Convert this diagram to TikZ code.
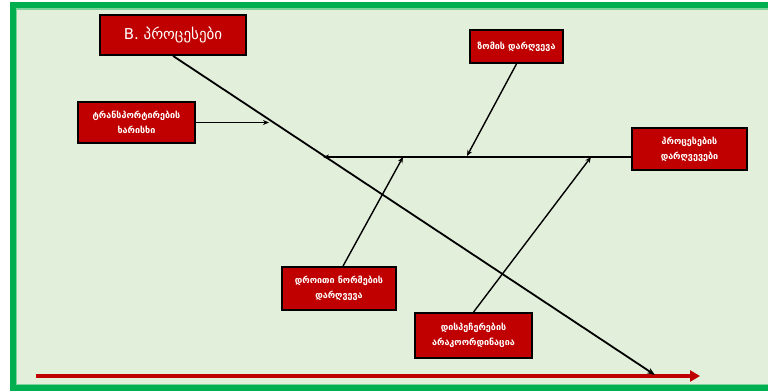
\documentclass[tikz,border=0pt]{standalone}
\usepackage{fontspec}
\setmainfont{DejaVu Sans}
\usetikzlibrary{arrows.meta,calc}
\definecolor{framegreen}{HTML}{00B050}
\definecolor{framelight}{HTML}{7DD49B}
\definecolor{paper}{HTML}{E2EFDA}
\definecolor{boxred}{HTML}{C00000}
\definecolor{axisred}{HTML}{C00000}
\begin{document}
\begin{tikzpicture}[x=1pt,y=-1pt,
  causebox/.style={draw=black,line width=1.8pt,fill=boxred,text=white,
    align=center,inner sep=0pt,font=\fontsize{9}{15}\selectfont\bfseries},
  bone/.style={draw=black,line width=1.4pt,-{Stealth[length=6pt,width=5pt]}},
  spine/.style={draw=black,line width=1.8pt,-{Stealth[length=8pt,width=6pt]}}]
\useasboundingbox (0,0) rectangle (768,391);
% frame
\fill[framegreen] (10,2) rectangle (768,391);
\fill[framelight] (16,8) rectangle (768,385);
\fill[paper] (17,10) rectangle (768,384);
% cause boxes
\node[causebox,minimum width=146,minimum height=40,font=\fontsize{15}{18}\selectfont] (b1) at (173,35) {B. პროცესები};
\node[causebox,minimum width=117,minimum height=41] (b2) at (136.5,122.5) {ტრანსპორტირების\\ხარისხი};
\node[causebox,minimum width=93,minimum height=33] (b3) at (516.5,46.5) {ზომის დარღვევა};
\node[causebox,minimum width=115,minimum height=42] (b4) at (689.5,149) {პროცესების\\დარღვევები};
\node[causebox,minimum width=114,minimum height=43] (b5) at (339,288.5) {დროითი ნორმების\\დარღვევა};
\node[causebox,minimum width=117,minimum height=45] (b6) at (473.5,335.5) {დისპეჩერების\\არაკოორდინაცია};
% timeline
\coordinate (t0) at (36,376);
\coordinate (t1) at (700,376);
\draw[axisred,line width=3.2pt,-{Triangle[length=10pt,width=11pt]}] (t0) -- (t1);
% main spine
\coordinate (s1) at (655,375);
\draw[spine] (b1.south) -- (s1);
% branch points
\coordinate (h1) at (323,157);
\coordinate (h2) at (269,122.5);
\coordinate (h3) at (467,156);
\coordinate (h4) at (403,157);
\coordinate (h5) at (591,157);
\draw[bone] (h1 -| b4.west) -- (h1);
\draw[bone] (b2.east) -- (h2);
\draw[bone] (b3.south) -- (h3);
\draw[bone] ($(b5.north)+(4,0)$) -- (h4);
\draw[bone] (b6.north) -- (h5);
\end{tikzpicture}
\end{document}
